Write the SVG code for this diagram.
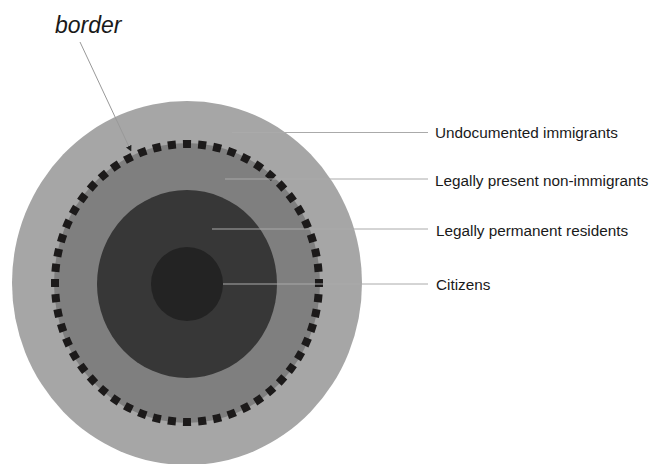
<svg xmlns="http://www.w3.org/2000/svg" width="649" height="464" viewBox="0 0 649 464">
<style>
.lbl{font-family:"Liberation Sans",Arial,sans-serif;font-size:15.3px;fill:#1a1a1a}
.lead{stroke:#aaaaaa;stroke-width:1;fill:none}
</style>
<defs>
<marker id="ah" viewBox="0 0 10 10" refX="9" refY="5" markerWidth="6" markerHeight="6" orient="auto">
<path d="M0,0 L10,5 L0,10 z" fill="#222"/>
</marker>
</defs>
<rect width="649" height="464" fill="#ffffff"/>
<g id="undocumented"><ellipse cx="187" cy="283" rx="175" ry="182" fill="#a6a6a6"/></g>
<g id="nonimmigrants"><ellipse cx="187" cy="283" rx="133" ry="140" fill="#7f7f7f"/></g>
<g id="border"><ellipse cx="187" cy="283" rx="132" ry="139" fill="none" stroke="#1c1a1a" stroke-width="8" pathLength="840" stroke-dasharray="8 7" stroke-dashoffset="4"/></g>
<g id="residents"><ellipse cx="187" cy="284" rx="90" ry="94" fill="#373737"/></g>
<g id="citizens"><ellipse cx="187" cy="284" rx="36" ry="37" fill="#232323"/></g>
<g id="connectors">
<line class="lead" x1="232" y1="132.5" x2="428" y2="132.5"/>
<line class="lead" x1="225" y1="179" x2="428" y2="179"/>
<line class="lead" x1="212" y1="229" x2="428" y2="229"/>
<line class="lead" x1="223" y1="284" x2="428" y2="284"/>
<line x1="80" y1="42" x2="131" y2="151" stroke="#999" stroke-width="1" marker-end="url(#ah)"/>
</g>
<g id="labels">
<text class="lbl" x="435" y="138">Undocumented immigrants</text>
<text class="lbl" x="435" y="186">Legally present non-immigrants</text>
<text class="lbl" x="436" y="236">Legally permanent residents</text>
<text class="lbl" x="436" y="290">Citizens</text>
<text x="55" y="33" font-family="Liberation Sans,Arial,sans-serif" font-style="italic" font-size="23" fill="#1a1a1a">border</text>
</g>
</svg>
